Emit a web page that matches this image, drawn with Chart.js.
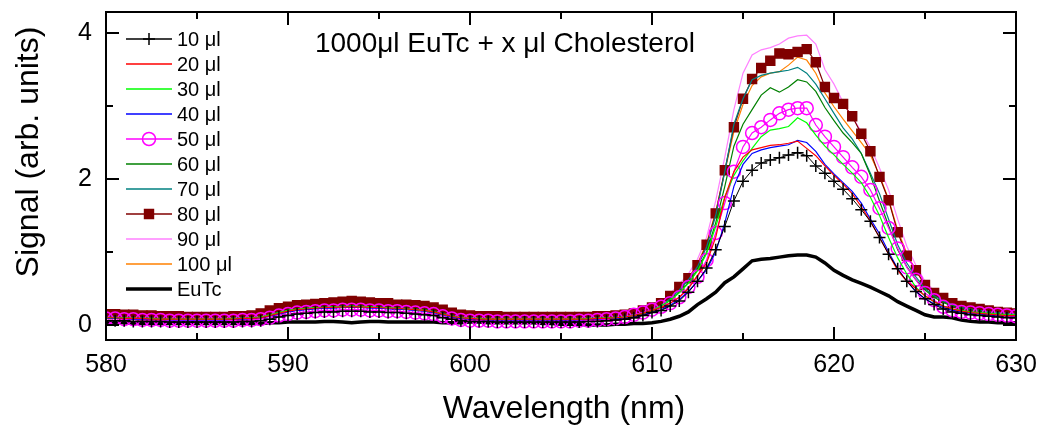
<!DOCTYPE html>
<html><head><meta charset="utf-8">
<script src="https://cdn.jsdelivr.net/npm/chart.js@4.4.0/dist/chart.umd.min.js"></script>
<style>html,body{margin:0;padding:0;background:#fff;}canvas{display:block}</style>
</head><body>
<canvas id="c" width="1039" height="432"></canvas>
<script>
const wavelength = [
580,580.5,581,581.5,582,582.5,583,583.5,584,584.5,
585,585.5,586,586.5,587,587.5,588,588.5,589,589.5,
590,590.5,591,591.5,592,592.5,593,593.5,594,594.5,
595,595.5,596,596.5,597,597.5,598,598.5,599,599.5,
600,600.5,601,601.5,602,602.5,603,603.5,604,604.5,
605,605.5,606,606.5,607,607.5,608,608.5,609,609.5,
610,610.5,611,611.5,612,612.5,613,613.5,614,614.5,
615,615.5,616,616.5,617,617.5,618,618.5,619,619.5,
620,620.5,621,621.5,622,622.5,623,623.5,624,624.5,
625,625.5,626,626.5,627,627.5,628,628.5,629,629.5,
630];

const s10 = [
0.06,0.06,0.06,0.05,0.05,0.05,0.05,0.04,0.04,0.04,
0.04,0.04,0.04,0.04,0.04,0.05,0.05,0.06,0.08,0.11,
0.13,0.15,0.16,0.17,0.18,0.18,0.19,0.19,0.19,0.18,
0.18,0.17,0.17,0.16,0.15,0.14,0.13,0.1,0.08,0.06,
0.05,0.05,0.05,0.04,0.04,0.04,0.04,0.04,0.04,0.04,
0.04,0.04,0.04,0.05,0.05,0.06,0.07,0.08,0.1,0.13,
0.17,0.2,0.26,0.33,0.45,0.6,0.78,1.03,1.35,1.7,
1.97,2.12,2.22,2.26,2.29,2.33,2.36,2.32,2.18,2.08,
1.97,1.86,1.73,1.58,1.42,1.2,0.97,0.77,0.6,0.46,
0.36,0.28,0.22,0.18,0.16,0.14,0.13,0.12,0.11,0.1,
0.1];

const s20 = [
0.1,0.1,0.09,0.09,0.09,0.08,0.08,0.08,0.08,0.08,
0.08,0.08,0.08,0.08,0.08,0.09,0.09,0.1,0.13,0.16,
0.19,0.21,0.22,0.23,0.24,0.24,0.25,0.25,0.25,0.24,
0.24,0.23,0.23,0.22,0.21,0.2,0.18,0.15,0.12,0.1,
0.09,0.08,0.08,0.08,0.08,0.08,0.08,0.08,0.08,0.08,
0.08,0.08,0.08,0.08,0.09,0.09,0.1,0.11,0.13,0.16,
0.2,0.24,0.3,0.38,0.5,0.68,0.85,1.2,1.75,2.1,
2.3,2.4,2.43,2.46,2.47,2.49,2.52,2.42,2.32,2.18,
2.05,1.93,1.8,1.62,1.42,1.2,0.97,0.75,0.6,0.5,
0.4,0.32,0.26,0.22,0.19,0.17,0.16,0.15,0.14,0.13,
0.13];

const s30 = [
0.1,0.1,0.1,0.09,0.09,0.09,0.08,0.08,0.08,0.08,
0.08,0.08,0.08,0.08,0.09,0.09,0.1,0.11,0.14,0.17,
0.2,0.22,0.23,0.24,0.24,0.25,0.25,0.26,0.25,0.25,
0.24,0.24,0.23,0.22,0.21,0.2,0.18,0.15,0.12,0.1,
0.09,0.09,0.08,0.08,0.08,0.08,0.08,0.08,0.08,0.08,
0.08,0.08,0.08,0.09,0.09,0.1,0.1,0.11,0.13,0.16,
0.2,0.26,0.34,0.44,0.57,0.74,0.98,1.35,1.75,2.05,
2.25,2.42,2.58,2.67,2.69,2.72,2.84,2.77,2.6,2.45,
2.33,2.2,2.08,1.95,1.75,1.5,1.2,0.92,0.7,0.52,
0.4,0.32,0.26,0.22,0.2,0.18,0.17,0.16,0.15,0.14,
0.14];

const s40 = [
0.09,0.09,0.09,0.08,0.08,0.08,0.08,0.07,0.07,0.07,
0.07,0.07,0.07,0.07,0.08,0.08,0.09,0.1,0.12,0.15,
0.18,0.2,0.21,0.22,0.23,0.23,0.24,0.24,0.24,0.23,
0.23,0.22,0.22,0.21,0.2,0.19,0.17,0.14,0.11,0.09,
0.08,0.08,0.07,0.07,0.07,0.07,0.07,0.07,0.07,0.07,
0.07,0.07,0.07,0.08,0.08,0.09,0.09,0.1,0.12,0.14,
0.17,0.21,0.27,0.35,0.46,0.6,0.76,1.0,1.4,1.9,
2.2,2.35,2.4,2.43,2.45,2.47,2.53,2.5,2.38,2.2,
2.07,1.95,1.83,1.67,1.45,1.25,1.0,0.77,0.6,0.46,
0.36,0.29,0.24,0.2,0.18,0.16,0.15,0.14,0.13,0.13,
0.12];

const s50 = [
0.09,0.09,0.08,0.08,0.07,0.07,0.07,0.06,0.06,0.06,
0.06,0.06,0.06,0.06,0.06,0.07,0.07,0.08,0.1,0.13,
0.15,0.17,0.18,0.19,0.2,0.2,0.21,0.21,0.21,0.2,
0.2,0.19,0.19,0.18,0.17,0.16,0.15,0.12,0.09,0.07,
0.06,0.06,0.06,0.05,0.05,0.05,0.05,0.05,0.05,0.05,
0.05,0.05,0.06,0.06,0.07,0.08,0.09,0.11,0.14,0.17,
0.21,0.25,0.3,0.38,0.52,0.66,0.89,1.26,1.67,2.1,
2.44,2.63,2.71,2.81,2.9,2.95,2.97,2.97,2.74,2.58,
2.44,2.3,2.16,2.03,1.85,1.6,1.33,1.05,0.79,0.62,
0.44,0.34,0.25,0.2,0.18,0.17,0.16,0.15,0.14,0.13,
0.12];

const s60 = [
0.1,0.1,0.1,0.09,0.09,0.09,0.09,0.08,0.08,0.08,
0.08,0.08,0.08,0.08,0.09,0.09,0.1,0.11,0.14,0.17,
0.2,0.22,0.23,0.24,0.25,0.25,0.26,0.26,0.26,0.25,
0.25,0.24,0.24,0.23,0.22,0.21,0.19,0.16,0.13,0.11,
0.1,0.09,0.09,0.09,0.09,0.09,0.09,0.08,0.08,0.08,
0.08,0.09,0.09,0.09,0.1,0.1,0.11,0.12,0.14,0.16,
0.19,0.25,0.34,0.45,0.58,0.76,1.0,1.4,1.9,2.45,
2.75,2.95,3.15,3.25,3.19,3.26,3.36,3.33,3.2,2.98,
2.8,2.63,2.5,2.35,2.05,1.7,1.36,1.03,0.8,0.62,
0.48,0.38,0.31,0.26,0.23,0.21,0.19,0.17,0.16,0.15,
0.14];

const s70 = [
0.11,0.11,0.1,0.1,0.1,0.09,0.09,0.09,0.09,0.09,
0.09,0.09,0.09,0.09,0.09,0.1,0.1,0.11,0.14,0.17,
0.2,0.22,0.23,0.24,0.25,0.25,0.26,0.26,0.26,0.25,
0.25,0.24,0.24,0.23,0.22,0.21,0.19,0.16,0.13,0.11,
0.1,0.09,0.09,0.09,0.09,0.09,0.09,0.09,0.09,0.09,
0.09,0.09,0.09,0.09,0.1,0.1,0.11,0.12,0.14,0.17,
0.2,0.27,0.36,0.48,0.62,0.8,1.07,1.5,2.1,2.75,
3.1,3.36,3.42,3.45,3.47,3.49,3.53,3.45,3.3,3.1,
2.9,2.7,2.55,2.35,2.08,1.8,1.45,1.1,0.85,0.66,
0.5,0.4,0.33,0.28,0.24,0.22,0.2,0.18,0.17,0.16,
0.15];

const s80 = [
0.15,0.15,0.14,0.14,0.13,0.13,0.12,0.12,0.12,0.11,
0.11,0.11,0.11,0.11,0.12,0.12,0.13,0.16,0.2,0.23,
0.25,0.27,0.28,0.29,0.3,0.31,0.32,0.33,0.32,0.31,
0.3,0.3,0.28,0.28,0.27,0.26,0.24,0.21,0.17,0.14,
0.13,0.12,0.12,0.12,0.11,0.11,0.11,0.11,0.11,0.11,
0.11,0.11,0.11,0.11,0.12,0.12,0.13,0.14,0.16,0.2,
0.24,0.3,0.4,0.52,0.64,0.82,1.1,1.53,2.12,2.71,
3.1,3.37,3.52,3.62,3.72,3.71,3.74,3.78,3.6,3.26,
3.11,3.03,2.86,2.62,2.38,2.03,1.71,1.27,0.95,0.75,
0.55,0.44,0.37,0.3,0.26,0.24,0.22,0.2,0.18,0.17,
0.16];

const s90 = [
0.13,0.13,0.12,0.12,0.11,0.11,0.1,0.1,0.1,0.1,
0.1,0.1,0.1,0.1,0.1,0.11,0.11,0.13,0.17,0.2,
0.23,0.25,0.26,0.27,0.28,0.29,0.3,0.3,0.3,0.29,
0.28,0.28,0.27,0.26,0.25,0.24,0.22,0.19,0.15,0.12,
0.11,0.1,0.1,0.1,0.1,0.1,0.09,0.09,0.09,0.09,
0.09,0.09,0.1,0.1,0.1,0.11,0.12,0.13,0.15,0.18,
0.25,0.32,0.43,0.56,0.7,0.9,1.2,1.7,2.3,2.95,
3.45,3.7,3.77,3.8,3.85,3.93,3.96,3.97,3.85,3.5,
3.3,3.05,2.85,2.65,2.44,2.15,1.85,1.45,1.08,0.82,
0.6,0.47,0.38,0.31,0.27,0.24,0.22,0.2,0.18,0.17,
0.16];

const s100 = [
0.12,0.12,0.11,0.11,0.1,0.1,0.1,0.09,0.09,0.09,
0.09,0.09,0.09,0.09,0.1,0.1,0.1,0.12,0.16,0.19,
0.22,0.24,0.25,0.26,0.27,0.27,0.28,0.28,0.28,0.27,
0.27,0.26,0.25,0.24,0.23,0.22,0.2,0.17,0.14,0.11,
0.1,0.1,0.09,0.09,0.09,0.09,0.09,0.09,0.09,0.09,
0.09,0.09,0.09,0.1,0.1,0.1,0.11,0.12,0.14,0.17,
0.21,0.28,0.38,0.5,0.64,0.84,1.12,1.55,2.1,2.65,
3.02,3.28,3.4,3.45,3.47,3.56,3.67,3.63,3.45,3.18,
2.99,2.82,2.66,2.5,2.33,2.05,1.72,1.3,0.98,0.74,
0.55,0.43,0.35,0.29,0.25,0.23,0.21,0.19,0.17,0.16,
0.15];

const sEuTc = [
0.03,0.03,0.03,0.02,0.02,0.02,0.02,0.02,0.02,0.02,
0.02,0.02,0.02,0.02,0.02,0.02,0.02,0.02,0.03,0.03,
0.04,0.04,0.04,0.04,0.05,0.05,0.04,0.03,0.04,0.05,
0.05,0.04,0.04,0.04,0.04,0.04,0.04,0.03,0.03,0.03,
0.04,0.04,0.03,0.03,0.03,0.03,0.03,0.03,0.02,0.02,
0.01,0.01,0.01,0.0,0.0,0.0,0.01,0.01,0.02,0.02,
0.03,0.05,0.08,0.12,0.18,0.28,0.36,0.45,0.58,0.66,
0.77,0.88,0.9,0.91,0.93,0.95,0.96,0.96,0.93,0.85,
0.75,0.68,0.62,0.57,0.52,0.46,0.4,0.32,0.26,0.2,
0.14,0.11,0.11,0.1,0.07,0.05,0.04,0.04,0.03,0.03,
0.03];

const seriesLabels = ['10 μl','20 μl','30 μl','40 μl','50 μl','60 μl','70 μl','80 μl','90 μl','100 μl','EuTc'];
const seriesData = [s10,s20,s30,s40,s50,s60,s70,s80,s90,s100,sEuTc];
const xMajor = [580,590,600,610,620,630];
const xMinor = [585,595,605,615,625];
const yMajor = [0,2,4];
const yMinor = [1,3];
const titleText = '1000μl EuTc + x μl Cholesterol';
const xTitle = 'Wavelength (nm)';
const yTitle = 'Signal (arb. units)';

const FONT = "'Liberation Sans', Arial, Helvetica, sans-serif";
const styles = [
  {color:'#000000', width:1,   point:'cross',  r:6,   filled:false},
  {color:'#ff0000', width:1.2},
  {color:'#00ff00', width:1.2},
  {color:'#0000ff', width:1.2},
  {color:'#ff00ff', width:1.2, point:'circle', r:6.5, filled:false},
  {color:'#008000', width:1.2},
  {color:'#008080', width:1.2},
  {color:'#800000', width:1.2, point:'rect',   r:6.3, filled:true},
  {color:'#ff80ff', width:1.2},
  {color:'#ff8000', width:1.2},
  {color:'#000000', width:3.5}
];

const datasets = seriesData.map((arr, k) => {
  const st = styles[k];
  return {
    label: seriesLabels[k],
    data: wavelength.map((w, i) => ({x: w, y: arr[i]})),
    borderColor: st.color,
    borderWidth: st.width,
    pointStyle: st.point || 'circle',
    pointRadius: st.point ? st.r : 0,
    pointBorderColor: st.color,
    pointBackgroundColor: st.filled ? st.color : 'rgba(0,0,0,0)',
    pointBorderWidth: 1.5,
    tension: 0,
    fill: false
  };
});

const decor = {
  id: 'decor',
  afterDatasetsDraw(chart) {
    const {ctx, chartArea: a, scales: {x, y}} = chart;
    ctx.save();
    ctx.strokeStyle = '#000'; ctx.lineWidth = 2;
    ctx.strokeRect(a.left, a.top, a.right - a.left, a.bottom - a.top);
    const major = 13, minor = 7;
    ctx.beginPath();
    xMajor.forEach(v => { const px = x.getPixelForValue(v);
      ctx.moveTo(px, a.bottom); ctx.lineTo(px, a.bottom - major);
      ctx.moveTo(px, a.top); ctx.lineTo(px, a.top + major); });
    xMinor.forEach(v => { const px = x.getPixelForValue(v);
      ctx.moveTo(px, a.bottom); ctx.lineTo(px, a.bottom - minor);
      ctx.moveTo(px, a.top); ctx.lineTo(px, a.top + minor); });
    yMajor.forEach(v => { const py = y.getPixelForValue(v);
      ctx.moveTo(a.left, py); ctx.lineTo(a.left + major, py);
      ctx.moveTo(a.right, py); ctx.lineTo(a.right - major, py); });
    yMinor.forEach(v => { const py = y.getPixelForValue(v);
      ctx.moveTo(a.left, py); ctx.lineTo(a.left + minor, py);
      ctx.moveTo(a.right, py); ctx.lineTo(a.right - minor, py); });
    ctx.stroke();

    ctx.fillStyle = '#000';
    ctx.font = '28px ' + FONT;
    ctx.textAlign = 'center'; ctx.textBaseline = 'middle';
    ctx.fillText(titleText, 505, 44);
    ctx.font = '32px ' + FONT;
    ctx.fillText(xTitle, 564, 409);
    ctx.save();
    ctx.translate(29, 152);
    ctx.rotate(-Math.PI / 2);
    ctx.fillText(yTitle, 0, 0);
    ctx.restore();

    ctx.font = '20px ' + FONT;
    ctx.textAlign = 'left';
    seriesLabels.forEach((lab, k) => {
      const st = styles[k];
      const ly = 39 + k * 25;
      ctx.strokeStyle = st.color; ctx.lineWidth = Math.max(st.width, 1.5);
      ctx.beginPath(); ctx.moveTo(126, ly); ctx.lineTo(172, ly); ctx.stroke();
      if (st.point) {
        ctx.strokeStyle = st.color; ctx.lineWidth = 1.5;
        ctx.fillStyle = st.filled ? st.color : 'rgba(0,0,0,0)';
        Chart.helpers.drawPoint(ctx, {pointStyle: st.point, radius: st.r, borderWidth: 1.5, rotation: 0}, 149, ly);
      }
      ctx.fillStyle = '#000';
      ctx.fillText(lab, 177, ly + 1);
    });
    ctx.restore();
  }
};

const noPad = s => { s.paddingTop = 0; s.paddingBottom = 0; s.paddingLeft = 0; s.paddingRight = 0; };

new Chart(document.getElementById('c'), {
  type: 'line',
  data: {datasets},
  options: {
    responsive: false,
    animation: false,
    events: [],
    layout: {autoPadding: false, padding: {left: 0, top: 12, right: 23, bottom: 0}},
    plugins: {legend: {display: false}, tooltip: {enabled: false}, title: {display: false}},
    scales: {
      x: {
        type: 'linear', min: 580, max: 630,
        grid: {display: false, drawTicks: false},
        border: {display: false},
        afterBuildTicks: s => { s.ticks = xMajor.map(v => ({value: v})); },
        afterFit: s => { s.height = 92; noPad(s); },
        ticks: {color: '#000', font: {family: FONT, size: 25}, padding: 10, maxRotation: 0},
        title: {display: false}
      },
      y: {
        type: 'linear', min: -0.205, max: 4.288,
        grid: {display: false, drawTicks: false},
        border: {display: false},
        afterBuildTicks: s => { s.ticks = yMajor.map(v => ({value: v})); },
        afterFit: s => { s.width = 106; noPad(s); },
        ticks: {color: '#000', font: {family: FONT, size: 25}, padding: 14},
        title: {display: false}
      }
    }
  },
  plugins: [decor]
});
</script>
</body></html>
